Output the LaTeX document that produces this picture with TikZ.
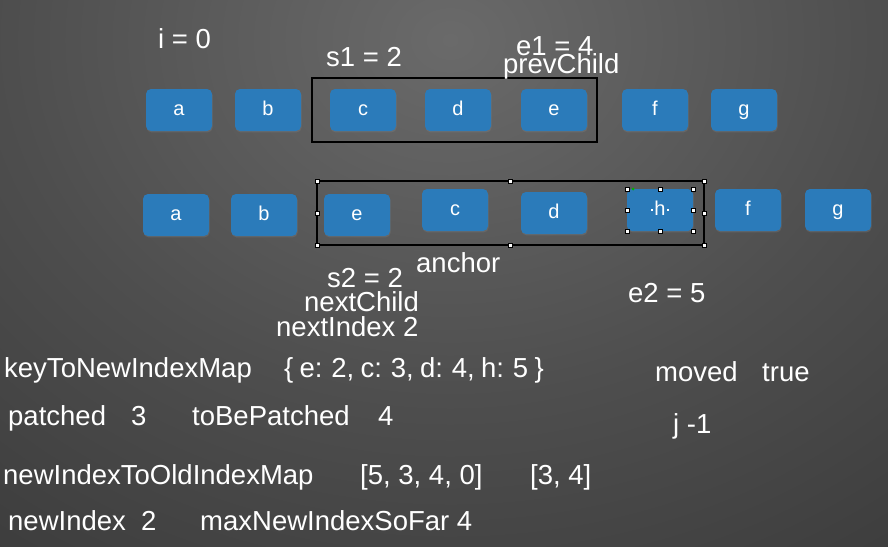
\documentclass[tikz,border=0pt]{standalone}
\usepackage{fontspec}
\setmainfont{Liberation Sans}
\usetikzlibrary{shadows}

\definecolor{keyblue}{HTML}{2B7BBA}
\definecolor{bgA}{HTML}{6A6A6A}
\definecolor{bgB}{HTML}{4E4E4E}
\definecolor{bgC}{HTML}{333333}
\definecolor{bgD}{HTML}{202020}

\pgfdeclareradialshading{stage}{\pgfpoint{0bp}{0bp}}{%
  color(0bp)=(bgA); color(10bp)=(bgB); color(22bp)=(bgC); color(34bp)=(bgD); color(50bp)=(bgD)}

\tikzset{
  vnode/.style={rounded corners=5pt, fill=keyblue, minimum width=66pt, minimum height=42pt,
    inner sep=0pt, text=white, font=\fontsize{20}{22}\selectfont,
    text height=10pt, text depth=0pt,
    drop shadow={opacity=0.35, shadow xshift=0.6pt, shadow yshift=-1.4pt}},
  lbl/.style={text=white, inner sep=0pt, font=\fontsize{27.5}{30}\selectfont},
  selbox/.style={draw=black, line width=2pt},
  handle/.style={draw=black, fill=white, line width=0.4pt, minimum size=4.5pt, inner sep=0pt},
}

\begin{document}
\begin{tikzpicture}[x=1pt, y=-1pt]
  % backdrop
  \useasboundingbox (0,0) rectangle (888,546);
  \begin{scope}
    \clip (0,0) rectangle (888,546);
    \shade[shading=stage] (450,40) ellipse (1100 and 900);
  \end{scope}

  % old children
  \node[vnode] (oa) at (179,110) {a};
  \node[vnode] (ob) at (268,110) {b};
  \node[vnode] (oc) at (363,110) {c};
  \node[vnode] (od) at (458,110) {d};
  \node[vnode] (oe) at (554,110) {e};
  \node[vnode] (of) at (655,110) {f};
  \node[vnode] (og) at (744,110) {g};
  \draw[selbox] (312,78) rectangle (597,142);

  % new children
  \node[vnode] (na) at (176,215) {a};
  \node[vnode] (nb) at (264,215) {b};
  \node[vnode] (ne) at (357,215) {e};
  \node[vnode] (nc) at (455,210) {c};
  \node[vnode] (nd) at (554,213) {d};
  \node[vnode] (nh) at (660,210) {h};
  \node[vnode] (nf) at (748,210) {f};
  \node[vnode] (ng) at (838,210) {g};
  \draw[selbox] (317,181) rectangle (704,245);

  % selection handles
  \foreach \hx/\hy [count=\k] in {317/181,510/181,704/181,317/213,704/213,317/245,510/245,704/245}
    \node[handle] (ha\k) at (\hx,\hy) {};
  \foreach \hx/\hy [count=\k] in {627/189,660/189,693/189,627/210,693/210,627/231,660/231,693/231}
    \node[handle, minimum size=4pt] (hb\k) at (\hx,\hy) {};
  \node[circle, fill=green!70!black, minimum size=3pt, inner sep=0pt] (hg) at (633,189) {};
  \node[handle, minimum size=2.5pt, draw=none] (ht1) at (652,210) {};
  \node[handle, minimum size=2.5pt, draw=none] (ht2) at (668,210) {};

  % variables above and below the lists
  \node[lbl, anchor=base west] (i0) at (158,48) {i = 0};
  \node[lbl, anchor=base west] (s1) at (326,66) {s1 = 2};
  \node[lbl, anchor=base west] (e1) at (516,55) {e1 = 4};
  \node[lbl, anchor=base west] (prev) at (503,73) {prevChild};
  \node[lbl, anchor=base west] (anc) at (416,272) {anchor};
  \node[lbl, anchor=base west] (s2) at (327,287) {s2 = 2};
  \node[lbl, anchor=base west] (nextc) at (304,311) {nextChild};
  \node[lbl, anchor=base west] (nexti) at (276,336) {nextIndex 2};
  \node[lbl, anchor=base west] (e2) at (628,302) {e2 = 5};

  % bookkeeping state
  \node[lbl, anchor=base west] (kmap) at (4,377) {keyToNewIndexMap};
  \node[lbl, anchor=base west] (kval) at (284,377) {\spaceskip=6.3pt\relax\{ e: 2, c: 3, d: 4, h: 5 \}};
  \node[lbl, anchor=base west] (mv) at (655,381) {moved};
  \node[lbl, anchor=base west] (mvv) at (762,381) {true};
  \node[lbl, anchor=base west] (pt) at (8,425) {patched};
  \node[lbl, anchor=base west] (ptv) at (131,425) {3};
  \node[lbl, anchor=base west] (tbp) at (192,425) {toBePatched};
  \node[lbl, anchor=base west] (tbpv) at (378,425) {4};
  \node[lbl, anchor=base west] (jj) at (673,433) {j -1};
  \node[lbl, anchor=base west] (nmap) at (3,484) {newIndexToOldIndexMap};
  \node[lbl, anchor=base west] (nmapv) at (360,484) {[5, 3, 4, 0]};
  \node[lbl, anchor=base west] (lis) at (530,484) {[3, 4]};
  \node[lbl, anchor=base west] (ni) at (8,530) {newIndex};
  \node[lbl, anchor=base west] (niv) at (141,530) {2};
  \node[lbl, anchor=base west] (mx) at (200,530) {maxNewIndexSoFar 4};
\end{tikzpicture}
\end{document}
